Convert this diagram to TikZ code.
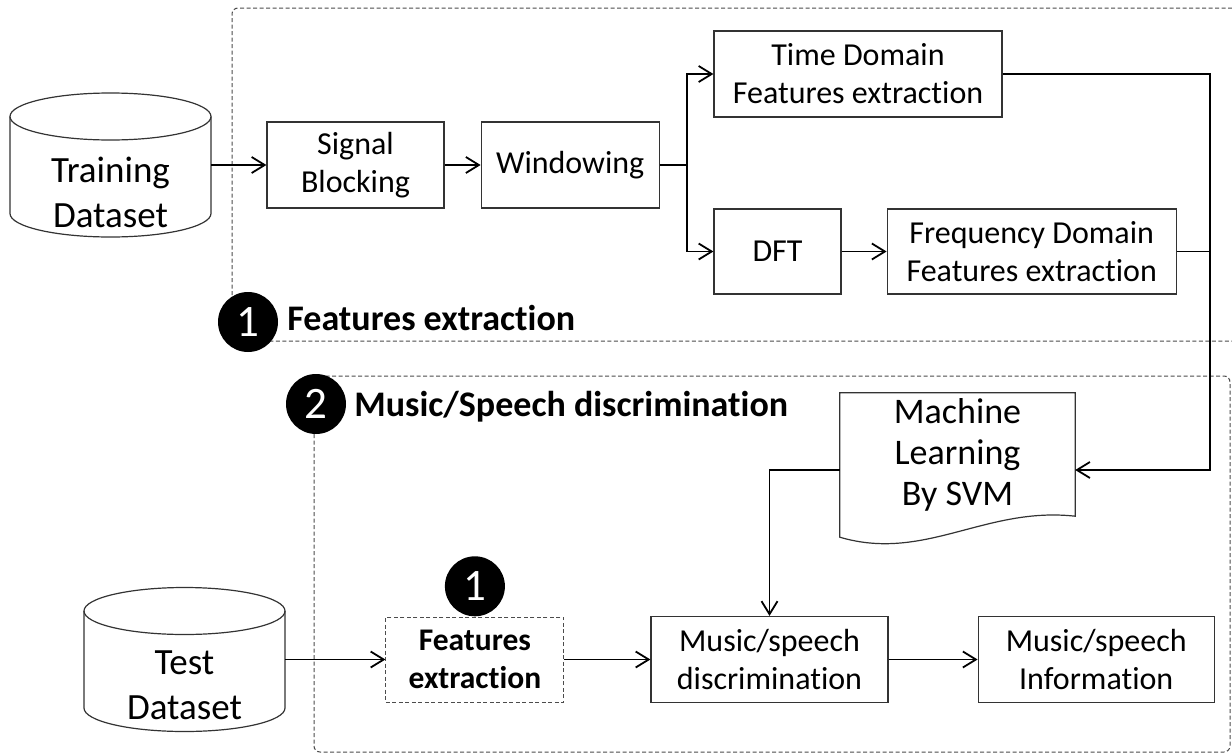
\documentclass[tikz,border=0pt]{standalone}
\usepackage{fontspec}
\setmainfont{Carlito}[Ligatures=NoCommon]
\usetikzlibrary{positioning, arrows.meta, calc}
\newcommand{\boxfont}{\fontsize{32}{38}\selectfont}
\newcommand{\dbfont}{\fontsize{37}{45}\selectfont}
\newcommand{\mlfont}{\fontsize{36}{41}\selectfont}
\newcommand{\headfont}{\bfseries\fontsize{36}{40}\selectfont}
\newcommand{\inbold}{\bfseries\fontsize{31.5}{38}\selectfont}
\newcommand{\numfont}{\fontsize{45}{45}\selectfont}
\tikzset{
    x=1pt, y=-1pt, % one unit is one pixel of the sketch, y grows downwards
    >={Straight Barb[length=13pt, width=16pt]}, % open arrow heads
    wire/.style={line width=1.8pt}, % plain connector
    conn/.style={wire, ->}, % directed connector
    block/.style={draw=black!80, line width=1.2pt, align=center, minimum height=86pt, inner sep=0pt, font=\boxfont}, % processing step
    dashbox/.style={draw=black!70, line width=1pt, dash pattern=on 4pt off 2.5pt}, % group frames
    fxbox/.style={block, dashbox, font=\inbold}, % collapsed group
    db/.style={minimum width=201pt, minimum height=144pt, inner sep=0pt, outer sep=0pt}, % dataset cylinder
    dbtext/.style={align=center, font=\dbfont, inner sep=0pt},
    mlbox/.style={minimum width=235pt, minimum height=123pt, inner sep=0pt, align=center, font=\mlfont},
    num/.style={circle, fill=black, text=white, minimum size=60pt, inner sep=0pt, font=\numfont}, % step badge
    head/.style={font=\headfont, inner sep=0pt},
}
\newcommand{\dbdraw}[1]{%
  \draw[draw=black!80, line width=1.2pt] ([yshift=-23.5pt]#1.north west) -- ([yshift=23.5pt]#1.south west)
    arc[start angle=180, end angle=360, x radius=100.5pt, y radius=23.5pt]
    -- ([yshift=-23.5pt]#1.north east);
  \draw[draw=black!80, line width=1.2pt] ([yshift=-23.5pt]#1.north) ellipse [x radius=100.5pt, y radius=23.5pt];
}
\begin{document}
\begin{tikzpicture}
\fill[white] (0,0) rectangle (1232,755);
\useasboundingbox (0,0) rectangle (1232,755);
% group frames
\draw[dashbox, rounded corners=6pt] (1232,8) -- (232,8) -- (232,341) -- (1232,341);
\draw[dashbox, rounded corners=6pt] (314,376) rectangle (1230,752);

% features extraction
\node[db] (train) at (110.5,165) {};
\dbdraw{train}
\node[dbtext] (trainlbl) at ([yshift=-27pt]train.center) {Training\\Dataset};
\node[block, minimum width=177pt] (sig) at (355.5,165) {Signal\\Blocking};
\node[block, minimum width=178pt, right=36pt of sig] (win) {Windowing};
\node[block, minimum width=288pt] (time) at (858,74) {Time Domain\\Features extraction};
\node[block, minimum width=127pt, minimum height=85pt] (dft) at (777.5,251.5) {DFT};
\node[block, minimum width=289pt, minimum height=85pt, right=45pt of dft] (freq) {Frequency Domain\\Features extraction};
\node[num] (n1) at (248,322) {1};
\node[head, right=9pt of n1, yshift=4pt] (fehead) {Features extraction};

% music/speech discrimination
\node[num] (n2) at (316,404) {2};
\node[head, right=8pt of n2, yshift=-3pt] (mshead) {Music/Speech discrimination};
\node[mlbox] (ml) at (957.5,454.5) {Machine\\Learning\\By SVM};
\draw[draw=black!80, line width=1.2pt] (ml.north west) -- (ml.north east) -- (ml.south east)
  .. controls ($(ml.south east)+(-90,-10)$) and ($(ml.south west)+(85,46)$) .. ($(ml.south west)+(0,21)$) -- cycle;
\node[db] (test) at (184.5,659.5) {};
\dbdraw{test}
\node[dbtext] (testlbl) at ([yshift=-26pt]test.center) {Test\\Dataset};
\node[block, minimum width=237pt] (disc) at (769.5,659.5) {Music/speech\\discrimination};
\node[fxbox, minimum width=178pt, minimum height=85pt, left=86pt of disc] (fx) {Features\\extraction};
\node[num, above=0pt of fx] (n3) {1};
\node[block, minimum width=236pt, right=89pt of disc] (info) {Music/speech\\Information};

% connectors
\coordinate[right=27pt of win] (split);
\coordinate (bus) at (1210,470);
\draw[conn] (train) -- (sig);
\draw[conn] (sig) -- (win);
\draw[wire] (win) -- (split);
\draw[conn] (split) |- (time);
\draw[conn] (split) |- (dft);
\draw[conn] (dft) -- (freq);
\draw[conn] (time) -| (bus) -- ([yshift=-15.5pt]ml.east);
\draw[wire] (freq) -- (freq -| bus);
\draw[conn] ([yshift=-15.5pt]ml.west) -| (disc);
\draw[conn] (test) -- (fx);
\draw[conn] (fx) -- (disc);
\draw[conn] (disc) -- (info);
\end{tikzpicture}
\end{document}
